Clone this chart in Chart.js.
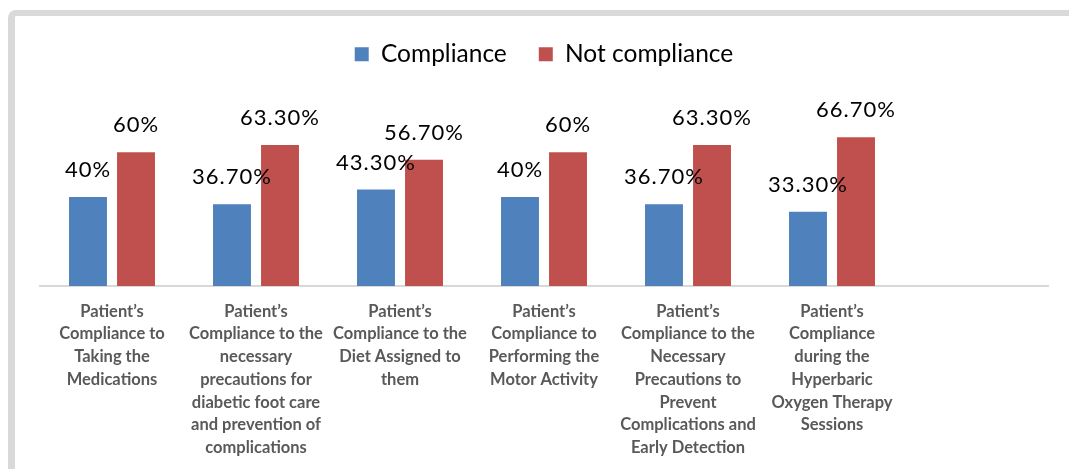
<!DOCTYPE html>
<html>
<head>
<meta charset="utf-8">
<script src="https://cdn.jsdelivr.net/npm/chart.js@4.4.1/dist/chart.umd.min.js"></script>
<style>
  html, body { margin: 0; padding: 0; background: #fff; overflow: hidden; }
  #frame {
    position: absolute; left: 8px; top: 10px; width: 1200px; height: 600px;
    border-top: 6px solid #d9d9d9; border-left: 7px solid #d9d9d9;
    border-top-left-radius: 8px; box-sizing: border-box;
  }
  #wrap { position: absolute; left: 0; top: 0; width: 1069px; height: 469px; }
</style>
</head>
<body>
<div id="frame"></div>
<div id="wrap"><canvas id="barChart"></canvas></div>
<script>
/* DATA */
const categories = [
    ["Patient’s", "Compliance to", "Taking the", "Medications"],
    ["Patient’s", "Compliance to the", "necessary", "precautions for", "diabetic foot care", "and prevention of", "complications"],
    ["Patient’s", "Compliance to the", "Diet Assigned to", "them"],
    ["Patient’s", "Compliance to", "Performing the", "Motor Activity"],
    ["Patient’s", "Compliance to the", "Necessary", "Precautions to", "Prevent", "Complications and", "Early Detection"],
    ["Patient’s", "Compliance", "during the", "Hyperbaric", "Oxygen Therapy", "Sessions"],
    ""
];
const compliance = [40, 36.7, 43.3, 40, 36.7, 33.3, null];
const notCompliance = [60, 63.3, 56.7, 60, 63.3, 66.7, null];
const valueLabels = {
    0: ["40%", "36.70%", "43.30%", "40%", "36.70%", "33.30%"],
    1: ["60%", "63.30%", "56.70%", "60%", "63.30%", "66.70%"]
};

/* value labels above bars */
const barLabels = {
    id: "barLabels",
    afterDatasetsDraw(chart) {
        const ctx = chart.ctx;
        ctx.save();
        ctx.font = "22px Lato";
        ctx.letterSpacing = "1px";
        ctx.fillStyle = "#000";
        ctx.textAlign = "center";
        ctx.textBaseline = "middle";
        chart.data.datasets.forEach((ds, i) => {
            chart.getDatasetMeta(i).data.forEach((bar, j) => {
                if (ds.data[j] == null) return;
                ctx.fillText(valueLabels[i][j], bar.x, bar.y - 27);
            });
        });
        ctx.restore();
    }
};

/* BAR CHART */
new Chart(document.getElementById("barChart"), {
    type: "bar",
    data: {
        labels: categories,
        datasets: [{
            label: "Compliance",
            data: compliance,
            backgroundColor: "#4f81bd"
        }, {
            label: "Not compliance",
            data: notCompliance,
            backgroundColor: "#c0504d"
        }]
    },
    options: {
        responsive: true,
        maintainAspectRatio: false,
        animation: false,
        categoryPercentage: 0.667,
        barPercentage: 0.79,
        layout: { padding: { left: 40, right: 21, top: 10, bottom: -4 } },
        plugins: {
            legend: {
                position: "top",
                labels: {
                    boxWidth: 14,
                    boxHeight: 14,
                    padding: 32,
                    color: "#000",
                    font: { family: "Lato", size: 24.5 }
                }
            },
            tooltip: { enabled: false }
        },
        scales: {
            x: {
                grid: { display: false, drawTicks: false },
                border: { display: true, color: "#d9d9d9", width: 2 },
                ticks: {
                    color: "#595959",
                    padding: 14,
                    maxRotation: 0,
                    autoSkip: false,
                    font: { family: "Lato", size: 16.5, weight: "bold", lineHeight: 1.376 }
                }
            },
            y: {
                display: false,
                min: 0,
                max: 94
            }
        }
    },
    plugins: [barLabels]
});
</script>
</body>
</html>
